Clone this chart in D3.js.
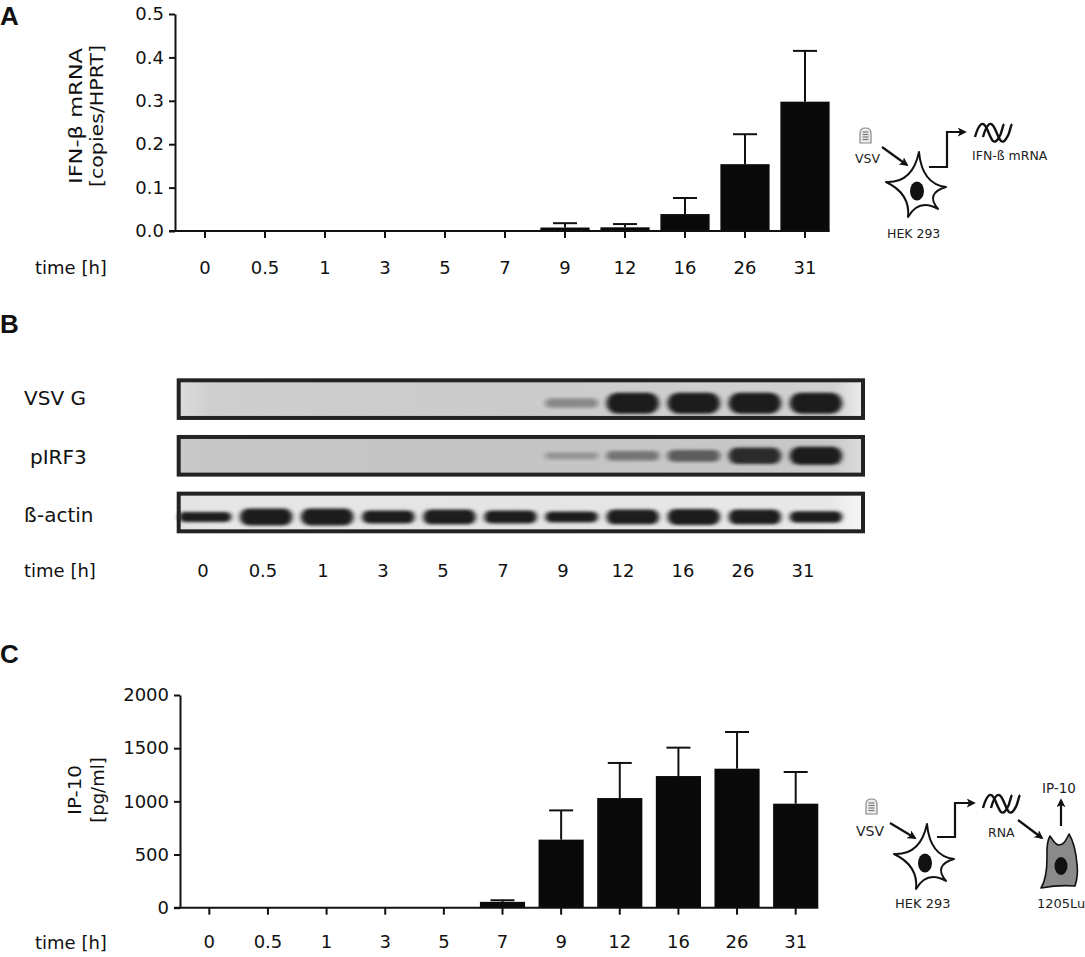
<!DOCTYPE html>
<html>
<head>
<meta charset="utf-8">
<script src="https://cdn.jsdelivr.net/npm/d3@7"></script>
<style>
  body { margin: 0; background: #fff; }
  svg { display: block; font-family: "DejaVu Sans", sans-serif; }
</style>
</head>
<body>
<div id="figure"></div>
<script>
// time points shared by all three panels
const timeLabels = ['0', '0.5', '1', '3', '5', '7', '9', '12', '16', '26', '31'];

// panel A: IFN-beta mRNA (copies/HPRT), mean and SEM
const ifnMean = [0, 0, 0, 0, 0, 0.001, 0.008, 0.0085, 0.039, 0.154, 0.298];
const ifnSem = [0, 0, 0, 0, 0, 0, 0.010, 0.0075, 0.037, 0.069, 0.117];
const ifnTicks = [0, 0.1, 0.2, 0.3, 0.4, 0.5];

// panel B: western blot, relative band strength per lane
const blotRows = ['VSV G', 'pIRF3', 'ß-actin'];
const vsvG = [0, 0, 0, 0, 0, 0, 0.3, 1, 1, 1, 1];
const pIRF3 = [0, 0, 0, 0, 0, 0, 0.2, 0.4, 0.55, 0.9, 1];
const bActin = [0.35, 1, 1, 0.65, 0.8, 0.65, 0.45, 0.8, 0.9, 0.8, 0.5];

// panel C: IP-10 (pg/ml), mean and SEM
const ip10Mean = [0, 0, 0, 0, 0, 55, 640, 1031, 1238, 1307, 978];
const ip10Sem = [0, 0, 0, 0, 0, 15, 275, 330, 267, 345, 298];
const ip10Ticks = [0, 500, 1000, 1500, 2000];

const W = 1085, H = 957;
const ink = '#111';

const svg = d3.select('#figure').append('svg')
    .attr('width', W)
    .attr('height', H);

svg.append('rect').attr('width', W).attr('height', H).attr('fill', '#fff');

const defs = svg.append('defs');
defs.append('marker')
    .attr('id', 'arrow')
    .attr('viewBox', '0 0 10 10')
    .attr('refX', 8).attr('refY', 5)
    .attr('markerWidth', 9).attr('markerHeight', 9)
    .attr('markerUnits', 'userSpaceOnUse')
    .attr('orient', 'auto')
    .append('path')
    .attr('d', 'M0,0L10,5L0,10L2.5,5z')
    .attr('fill', ink);

const blur = defs.append('filter')
    .attr('id', 'blur')
    .attr('x', '-30%').attr('y', '-80%')
    .attr('width', '160%').attr('height', '260%');
blur.append('feGaussianBlur').attr('stdDeviation', '2.4 1.8');

function panelLetter(txt, y) {
    svg.append('text')
        .attr('x', 0).attr('y', y)
        .style('font-family', '"Liberation Sans", Arial, sans-serif')
        .style('font-weight', 'bold')
        .style('font-size', '26px')
        .attr('fill', ink)
        .text(txt);
}

function timeTitle(x, y) {
    svg.append('text')
        .attr('x', x).attr('y', y)
        .style('font-size', '18px')
        .attr('fill', ink)
        .text('time [h]');
}

function styleAxis(sel) {
    sel.attr('font-family', null).attr('font-size', null);
    sel.selectAll('path, line').attr('stroke', ink).attr('stroke-width', 2);
    sel.selectAll('text').attr('fill', ink).style('font-size', '18px');
}

// bar chart with SEM bars, used for panels A and C
function barPanel(cfg) {
    const g = svg.append('g');
    const x = d3.scaleBand()
        .domain(timeLabels)
        .range([cfg.x0, cfg.x1])
        .paddingInner(cfg.pad)
        .paddingOuter(cfg.pad / 2);
    const y = d3.scaleLinear()
        .domain([0, cfg.yMax])
        .range([cfg.y0, cfg.y1]);

    const rows = timeLabels.map((t, i) => ({ t: t, mean: cfg.mean[i], sem: cfg.sem[i] }));

    g.selectAll('.bar')
        .data(rows)
        .join('rect')
        .attr('class', 'bar')
        .attr('x', d => x(d.t))
        .attr('width', x.bandwidth())
        .attr('y', d => y(d.mean))
        .attr('height', d => y(0) - y(d.mean))
        .attr('fill', '#0a0a0a');

    const withErr = rows.filter(d => d.sem > 0);
    const mid = d => x(d.t) + x.bandwidth() / 2;

    g.selectAll('.err')
        .data(withErr)
        .join('line')
        .attr('class', 'err')
        .attr('x1', mid).attr('x2', mid)
        .attr('y1', d => y(d.mean))
        .attr('y2', d => y(d.mean + d.sem))
        .attr('stroke', ink).attr('stroke-width', 2);

    g.selectAll('.cap')
        .data(withErr)
        .join('line')
        .attr('class', 'cap')
        .attr('x1', d => mid(d) - 12).attr('x2', d => mid(d) + 12)
        .attr('y1', d => y(d.mean + d.sem))
        .attr('y2', d => y(d.mean + d.sem))
        .attr('stroke', ink).attr('stroke-width', 2);

    const last = timeLabels[timeLabels.length - 1];
    const xAxis = g.append('g')
        .attr('transform', `translate(0,${y(0)})`)
        .call(d3.axisBottom(x).tickSize(7).tickPadding(cfg.xPad).tickSizeOuter(0))
        .call(styleAxis);
    xAxis.select('.domain').attr('d', `M${cfg.x0 - 6},0H${x(last) + x.bandwidth()}`);

    g.append('g')
        .attr('transform', `translate(${cfg.x0},0)`)
        .call(d3.axisLeft(y)
            .tickValues(cfg.ticks)
            .tickFormat(cfg.fmt)
            .tickSize(6)
            .tickPadding(5)
            .tickSizeOuter(0))
        .call(styleAxis);

    // two-line rotated y title
    cfg.title.forEach(function(line) {
        const t = g.append('text')
            .attr('transform', `translate(${line.x},${cfg.titleY}) rotate(-90)`)
            .attr('text-anchor', 'middle')
            .style('font-size', '18px')
            .attr('fill', ink)
            .text(line.text);
        if (line.len) {
            t.attr('textLength', line.len).attr('lengthAdjust', 'spacingAndGlyphs');
        }
    });

    timeTitle(35, y(0) + 7 + cfg.xPad + 12.8);
}

// ---------- panel A ----------
panelLetter('A', 25);
barPanel({
    x0: 175, x1: 835, y0: 231, y1: 14, pad: 0.18,
    yMax: 0.5, ticks: ifnTicks, fmt: d3.format('.1f'),
    mean: ifnMean, sem: ifnSem, xPad: 22.8,
    titleY: 116,
    title: [
        { text: 'IFN-β mRNA', x: 82, len: 136 },
        { text: '[copies/HPRT]', x: 103, len: 142 }
    ]
});

// ---------- panel C ----------
panelLetter('C', 663);
barPanel({
    x0: 180, x1: 825, y0: 907.7, y1: 695, pad: 0.23,
    yMax: 2000, ticks: ip10Ticks, fmt: d3.format('d'),
    mean: ip10Mean, sem: ip10Sem, xPad: 21,
    titleY: 790,
    title: [
        { text: 'IP-10', x: 81, len: 50 },
        { text: '[pg/ml]', x: 104 }
    ]
});

// ---------- panel B: blot ----------
panelLetter('B', 333);

const lane = d3.scaleBand().domain(timeLabels).range([174.5, 846.5]).paddingInner(0.14).paddingOuter(0.07);
const laneLabel = d3.scaleBand().domain(timeLabels).range([173, 833]);
const rowBand = d3.scaleBand().domain(blotRows).range([378.3, 533.3]).paddingInner(0.265);

const rowStyle = {
    'VSV G':   { values: vsvG,   shift: 4,   bg: ['#dcdcdc', '#cecece', '#cbcbcb', '#d0d0d0', '#ececec'], hMin: 4, hMax: 21, fixedOpacity: null, labelX: 24, base: 405 },
    'pIRF3':   { values: pIRF3,  shift: 0,   bg: ['#c9c9c9', '#c6c6c6', '#c4c4c4', '#c8c8c8', '#dedede'], hMin: 4, hMax: 18, fixedOpacity: null, labelX: 30, base: 464 },
    'ß-actin': { values: bActin, shift: 4.5, bg: ['#e2e2e2', '#e6e6e6', '#e4e4e4', '#e8e8e8', '#f6f6f6'], hMin: 6, hMax: 17, fixedOpacity: 0.97, labelX: 24, base: 522 }
};

const boxX0 = 176.7, boxX1 = 865;

blotRows.forEach(function(name, r) {
    const st = rowStyle[name];
    const top = rowBand(name);
    const bh = rowBand.bandwidth();

    const grad = defs.append('linearGradient').attr('id', 'bg' + r);
    [0, 0.05, 0.5, 0.955, 1].forEach((o, k) => {
        grad.append('stop').attr('offset', o).attr('stop-color', st.bg[k]);
    });

    svg.append('rect')
        .attr('x', boxX0 + 2).attr('y', top + 2)
        .attr('width', boxX1 - boxX0 - 4).attr('height', bh - 4)
        .attr('fill', `url(#bg${r})`);

    const hScale = d3.scaleLinear().domain([0, 1]).range([st.hMin, st.hMax]);
    const oScale = d3.scaleLinear().domain([0, 1]).range([0.12, 0.97]);
    const cy = top + bh / 2 + st.shift;

    const bands = timeLabels.map((t, i) => ({ t: t, v: st.values[i] })).filter(d => d.v > 0);

    svg.append('g')
        .attr('filter', 'url(#blur)')
        .selectAll('rect')
        .data(bands)
        .join('rect')
        .attr('x', d => lane(d.t))
        .attr('width', lane.bandwidth())
        .attr('y', d => cy - hScale(d.v) / 2)
        .attr('height', d => hScale(d.v))
        .attr('rx', d => hScale(d.v) / 2)
        .attr('fill', '#161616')
        .attr('opacity', d => st.fixedOpacity != null ? st.fixedOpacity : oScale(d.v));

    svg.append('rect')
        .attr('x', boxX0 + 2).attr('y', top + 2)
        .attr('width', boxX1 - boxX0 - 4).attr('height', bh - 4)
        .attr('fill', 'none')
        .attr('stroke', '#232323')
        .attr('stroke-width', 4);

    svg.append('text')
        .attr('x', st.labelX).attr('y', st.base)
        .style('font-size', '20px')
        .attr('fill', ink)
        .text(name);
});

svg.append('g')
    .selectAll('text')
    .data(timeLabels)
    .join('text')
    .attr('x', d => laneLabel(d) + laneLabel.bandwidth() / 2)
    .attr('y', 576.7)
    .attr('text-anchor', 'middle')
    .style('font-size', '18px')
    .attr('fill', ink)
    .text(d => d);
timeTitle(24, 576.7);

// ---------- schematic drawings ----------
function label(x, y, txt, size) {
    svg.append('text')
        .attr('x', x).attr('y', y)
        .style('font-size', size + 'px')
        .attr('fill', '#222')
        .text(txt);
}

function arrow(d) {
    svg.append('path')
        .attr('d', d)
        .attr('fill', 'none')
        .attr('stroke', ink)
        .attr('stroke-width', 2.2)
        .attr('marker-end', 'url(#arrow)');
}

function virus(x, y) {
    const g = svg.append('g').attr('transform', `translate(${x},${y})`);
    g.append('path')
        .attr('d', 'M0,15V5Q0,0 5.5,0Q11,0 11,5V15Z')
        .attr('fill', '#eee').attr('stroke', '#888').attr('stroke-width', 1.2);
    [4, 6.5, 9, 11.5].forEach(yy => {
        g.append('line').attr('x1', 2.5).attr('x2', 8.5).attr('y1', yy).attr('y2', yy)
            .attr('stroke', '#777').attr('stroke-width', 1.2);
    });
}

function starCell(cx, cy) {
    const pts = [[2, -39], [29, -4], [21, 18], [-9, 26], [-31, -9]];
    let d = `M${cx + pts[0][0]},${cy + pts[0][1]}`;
    for (let i = 0; i < pts.length; i++) {
        const a = pts[i], b = pts[(i + 1) % pts.length];
        const mx = (a[0] + b[0]) / 2 * 0.32, my = (a[1] + b[1]) / 2 * 0.32;
        d += `Q${cx + mx},${cy + my} ${cx + b[0]},${cy + b[1]}`;
    }
    svg.append('path').attr('d', d + 'Z')
        .attr('fill', '#fff').attr('stroke', ink).attr('stroke-width', 2)
        .attr('stroke-linejoin', 'round');
    svg.append('ellipse')
        .attr('cx', cx).attr('cy', cy)
        .attr('rx', 7).attr('ry', 9.5)
        .attr('fill', '#111');
}

function wave(x, y) {
    const g = svg.append('g').attr('transform', `translate(${x},${y})`)
        .attr('fill', 'none').attr('stroke', ink).attr('stroke-width', 2.4);
    g.append('path').attr('d', 'M0,15C4,1 8,-2 12,7S18,24 23,17S27,4 29,2');
    g.append('path').attr('d', 'M8,15C12,1 16,-2 20,7S26,24 31,17S35,4 37,2');
}

// panel A schematic
virus(860, 128);
label(855, 163, 'VSV', 12.5);
arrow('M882,147L907,165');
starCell(917, 191);
label(887, 238, 'HEK 293', 12.5);
arrow('M929,167H947V132H965');
wave(975, 122);
label(972, 160, 'IFN-ß mRNA', 12.5);

// panel C schematic
virus(866, 799);
label(856, 836, 'VSV', 14);
arrow('M890,823L915,838');
starCell(925, 863);
label(895, 908, 'HEK 293', 13);
arrow('M937,837H955V803H974');
wave(983, 793);
label(988, 837, 'RNA', 12.5);
arrow('M1018,820L1042,838');
svg.append('path')
    .attr('d', 'M1041,888C1046,880 1047,870 1047,858C1047,850 1046,843 1050,836C1053,840 1055,845 1059,845C1064,845 1066,840 1069,834C1074,842 1076,852 1077,864C1078,872 1077,880 1075,886C1064,885 1052,886 1041,888Z')
    .attr('fill', '#8a8a8a').attr('stroke', ink).attr('stroke-width', 1.6)
    .attr('stroke-linejoin', 'round');
svg.append('ellipse').attr('cx', 1061).attr('cy', 866).attr('rx', 6.5).attr('ry', 9).attr('fill', '#111');
label(1037, 908, '1205Lu', 13);
arrow('M1061,826V800');
label(1042, 793, 'IP-10', 13.5);
</script>
</body>
</html>
